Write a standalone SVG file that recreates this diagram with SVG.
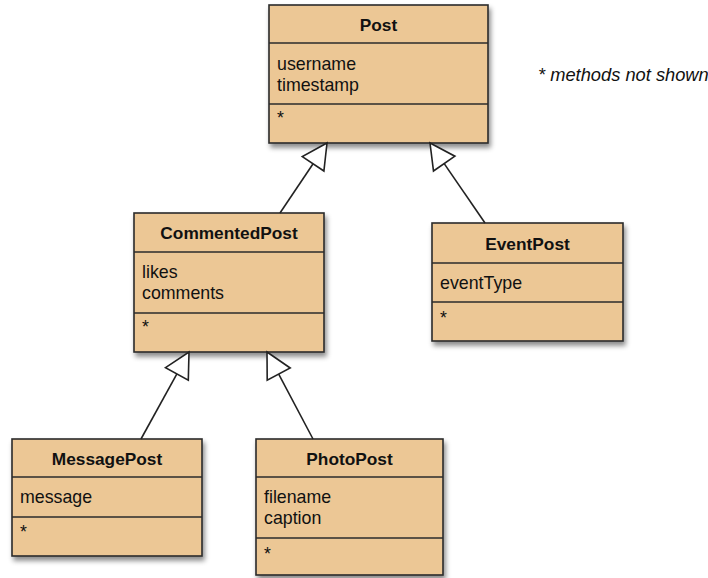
<svg xmlns="http://www.w3.org/2000/svg" width="708" height="578" viewBox="0 0 708 578">
<style>
.box{fill:#ECC795;stroke:#2b2b2b;stroke-width:1.6}
.div{stroke:#2b2b2b;stroke-width:1.6}
.t{font-family:"Liberation Sans",Arial,sans-serif;font-size:17.8px;fill:#111}
.h{font-weight:bold;text-anchor:middle;font-size:17.3px}
.conn line{stroke:#222;stroke-width:1.6}
.conn polygon{fill:#fff;stroke:#222;stroke-width:1.6;stroke-linejoin:miter}
</style>
<defs>
<filter id="sh" x="-10%" y="-10%" width="130%" height="130%">
<feDropShadow dx="2" dy="4" stdDeviation="2.5" flood-color="#000" flood-opacity="0.45"/>
</filter>
</defs>
<rect width="708" height="578" fill="#fff"/>

<g id="Post">
<rect class="box" x="269" y="5" width="219" height="138" filter="url(#sh)"/>
<line class="div" x1="269" y1="43" x2="488" y2="43"/>
<line class="div" x1="269" y1="104" x2="488" y2="104"/>
<text class="t h" x="378.5" y="31">Post</text>
<text class="t" x="277" y="70">username</text>
<text class="t" x="277" y="91">timestamp</text>
<text class="t" x="277" y="124">*</text>
</g>

<g id="CommentedPost">
<rect class="box" x="134" y="213" width="190" height="139" filter="url(#sh)"/>
<line class="div" x1="134" y1="252" x2="324" y2="252"/>
<line class="div" x1="134" y1="313" x2="324" y2="313"/>
<text class="t h" x="229" y="239">CommentedPost</text>
<text class="t" x="142" y="278">likes</text>
<text class="t" x="142" y="299">comments</text>
<text class="t" x="142" y="333">*</text>
</g>

<g id="EventPost">
<rect class="box" x="432" y="223" width="191" height="118" filter="url(#sh)"/>
<line class="div" x1="432" y1="263" x2="623" y2="263"/>
<line class="div" x1="432" y1="302" x2="623" y2="302"/>
<text class="t h" x="527.5" y="250">EventPost</text>
<text class="t" x="440" y="289">eventType</text>
<text class="t" x="440" y="324">*</text>
</g>

<g id="MessagePost">
<rect class="box" x="12" y="439" width="190" height="117" filter="url(#sh)"/>
<line class="div" x1="12" y1="477" x2="202" y2="477"/>
<line class="div" x1="12" y1="517" x2="202" y2="517"/>
<text class="t h" x="107" y="465">MessagePost</text>
<text class="t" x="20" y="503">message</text>
<text class="t" x="20" y="538">*</text>
</g>

<g id="PhotoPost">
<rect class="box" x="256" y="439" width="187" height="136" filter="url(#sh)"/>
<line class="div" x1="256" y1="477" x2="443" y2="477"/>
<line class="div" x1="256" y1="538" x2="443" y2="538"/>
<text class="t h" x="349.5" y="465">PhotoPost</text>
<text class="t" x="264" y="503">filename</text>
<text class="t" x="264" y="524">caption</text>
<text class="t" x="264" y="560">*</text>
</g>

<g id="connectors" class="conn">
<line x1="280" y1="213" x2="313.1" y2="163.8"/>
<polygon points="327,143 323.9,171 302.3,156.6"/>
<line x1="485" y1="223" x2="444.2" y2="163.6"/>
<polygon points="430,143 454.9,156.2 433.5,171"/>
<line x1="141" y1="439" x2="176.9" y2="373.9"/>
<polygon points="189,352 188.3,380.2 165.5,367.6"/>
<line x1="313" y1="439" x2="278.7" y2="374.1"/>
<polygon points="267,352 290.2,368 267.2,380.2"/>
</g>

<text class="t" x="538" y="81" style="font-style:italic;font-size:18.3px">* methods not shown</text>
</svg>
